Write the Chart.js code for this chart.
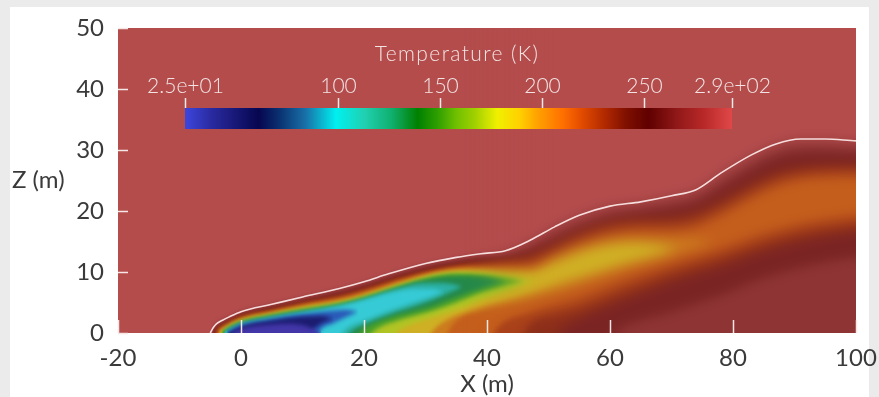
<!DOCTYPE html>
<html>
<head>
<meta charset="utf-8">
<script src="https://cdn.jsdelivr.net/npm/chart.js@4.4.1/dist/chart.umd.min.js"></script>
<style>
  html, body { margin: 0; padding: 0; width: 879px; height: 397px; overflow: hidden; background: #ebebeb; }
  #panel { position: absolute; left: 10px; top: 7px; width: 859px; height: 390px; background: #ffffff; }
  #wrap { position: absolute; left: 0; top: 0; width: 879px; height: 397px; }
</style>
</head>
<body>
<div id="panel"></div>
<div id="wrap"><canvas id="c" width="879" height="397"></canvas></div>
<script>
// Axis ticks
const xTicks = [-20, 0, 20, 40, 60, 80, 100];
const zTicks = [0, 10, 20, 30, 40, 50];

// Colour bar (Temperature, K)
const barTemps  = [25, 38, 61, 71, 84, 99, 113, 126, 139, 149, 158, 167, 178, 189, 198, 210, 218, 231, 241, 252, 266, 279, 293];
const barColors = ['#3c46dc','#2a2aa0','#060650','#0a3070','#1870a8','#00f0f0','#20d0b0','#10b070','#008000','#30a000',
                   '#70c000','#a0d000','#f0f000','#ffd000','#ffa000','#ff7000','#e85000','#b02800','#801000','#600000',
                   '#901818','#b82828','#e04848'];
const barTickValues = [25, 100, 150, 200, 250, 293];
const barTickLabels = ['2.5e+01', '100', '150', '200', '250', '2.9e+02'];

// Isotherm outlines, [x (m), z (m)]. Each temperature level encloses the
// region colder than that level, bounded by an upper and a lower curve.
// Plume edge (white contour)
const plumeEdge = [[-5,0],[-4.5,0.9],[-4,1.5],[-3,2.1],[-2,2.6],[0,3.5],[5,4.7],[10,5.9],[16,7.3],[20,8.4],[24,9.7],[30,11.4],[35,12.4],[39,13.0],[43,13.5],[47,15.2],[51,17.4],[55,19.3],[60,20.8],[65,21.5],[70,22.5],[74,23.5],[78,26.2],[83,29.2],[87,31.0],[91,31.8],[95,31.8],[100,31.5],[104,31.4]];

const t282Top = plumeEdge;
const t282Bot = [[-5,-3],[104,-3]];

const t272Top = [[-4.8,0],[-4.5,0.6],[-4,1.2],[-3,1.8],[-2,2.3],[0,3.25],[5,4.45],[10,5.6],[16,6.95],[20,8.0],[24,9.3],[30,11.0],[35,12.0],[39,12.6],[43,13.0],[47,14.4],[51,16.5],[55,18.3],[60,20.0],[65,20.7],[70,21.6],[74,22.6],[78,25.1],[83,28.1],[87,30.0],[91,30.8],[95,30.8],[100,30.5],[104,30.4]];
const t272Bot = [[-4.8,-3],[104,-3]];

const t262Top = [[-4.6,0],[-4,0.9],[-3,1.55],[-2,2.05],[0,3.0],[5,4.2],[10,5.3],[16,6.6],[20,7.65],[24,8.95],[30,10.6],[35,11.6],[39,12.2],[43,12.6],[47,13.7],[51,15.6],[55,17.4],[60,19.1],[65,19.9],[70,20.6],[74,21.5],[78,23.8],[83,26.8],[87,28.8],[91,29.6],[95,29.7],[100,29.5],[104,29.4]];
const t262Bot = [[-4.6,-3],[56,-3],[62,1.0],[70,3.5],[78,6.2],[85,9.0],[92,11.0],[100,12.5],[104,13.3]];

const t248Top = [[-4.4,0],[-4,0.6],[-3,1.3],[-2,1.85],[0,2.8],[5,3.95],[10,5.05],[16,6.3],[20,7.35],[24,8.65],[30,10.3],[35,11.3],[39,11.8],[43,12.2],[47,12.9],[51,14.6],[55,16.5],[60,18.2],[65,18.8],[70,19.1],[74,19.9],[78,21.8],[83,24.6],[87,26.4],[91,27.3],[95,27.6],[100,27.6],[104,27.6]];
const t248Bot = [[-4.4,-3],[48,-3],[52,0.5],[55,2.3],[62,5.2],[70,8.3],[78,10.8],[85,13.3],[92,15.2],[100,16.6],[104,17.2]];

const t235Top = [[-4.2,0],[-4,0.3],[-3,1.1],[-2,1.65],[0,2.6],[5,3.7],[10,4.8],[16,6.0],[20,7.05],[24,8.35],[30,10.0],[35,11.0],[39,11.3],[43,11.6],[47,12.0],[51,13.8],[55,15.7],[60,17.3],[65,17.9],[70,18.0],[74,18.7],[78,20.6],[83,23.4],[87,25.3],[91,26.3],[95,26.7],[100,26.8],[104,26.8]];
const t235Bot = [[-4.2,-3],[44,-3],[47,1.5],[51,3.0],[55,4.0],[62,6.8],[70,9.8],[78,12.3],[85,14.7],[92,16.6],[100,17.8],[104,18.3]];

const t220Top = [[-4.0,0],[-3,0.9],[-2,1.45],[0,2.4],[5,3.5],[10,4.6],[16,5.7],[20,6.75],[24,8.05],[30,9.75],[35,10.7],[39,10.9],[43,11.0],[47,11.2],[51,13.0],[55,14.8],[60,16.3],[65,16.9],[70,16.9],[74,17.6],[78,19.4],[83,22.2],[87,24.1],[91,25.2],[95,25.6],[100,25.7],[104,25.7]];
const t220Bot = [[-4.0,-3],[39,-3],[42,1.2],[47,3.3],[55,5.6],[62,8.4],[70,11.2],[78,13.7],[85,16.2],[92,18.0],[100,19.2],[104,19.6]];

const t205Top = [[-3.8,0],[-3,0.7],[-2,1.3],[0,2.25],[5,3.35],[10,4.4],[16,5.45],[20,6.5],[24,7.8],[30,9.55],[35,10.45],[39,10.6],[43,10.6],[47,10.6],[51,12.4],[55,14.0],[60,15.3],[65,15.7],[70,15.5],[74,15.4],[77,14.9]];
const t205Bot = [[-3.8,-3],[31,-3],[35,2.0],[39,3.6],[43,4.6],[47,5.6],[51,6.9],[55,8.2],[60,9.8],[65,11.4],[70,12.9],[74,14.0],[77,14.9]];

const t190Top = [[-3.6,0],[-3,0.5],[-2,1.15],[0,2.1],[5,3.2],[10,4.2],[16,5.2],[20,6.25],[24,7.55],[30,9.35],[35,10.2],[39,10.3],[43,10.1],[47,10.0],[51,11.6],[55,13.2],[60,14.5],[64,14.8],[68,14.4],[71,13.6]];
const t190Bot = [[-3.6,-3],[28,-3],[32,1.2],[39,4.3],[43,5.4],[47,6.5],[51,7.8],[55,9.0],[60,10.6],[64,11.8],[68,12.8],[71,13.6]];

const t175Top = [[-3.4,0],[-3,0.3],[-2,1.0],[0,1.95],[5,3.05],[10,4.0],[16,5.0],[20,6.0],[24,7.3],[30,9.15],[35,9.95],[39,9.9],[43,9.4],[48,8.6]];
const t175Bot = [[-3.4,-3],[22,-3],[26,0.6],[31,2.5],[35,3.8],[39,5.4],[43,6.9],[48,8.6]];

const t155Top = [[-3.2,0],[-2,0.85],[0,1.8],[5,2.9],[10,3.8],[16,4.8],[20,5.8],[24,7.05],[30,8.95],[35,9.7],[39,9.5],[43,9.0],[46,8.5]];
const t155Bot = [[-3.2,-3],[18,-3],[22,0.6],[26,2.2],[31,3.6],[35,5.0],[39,6.6],[43,7.8],[46,8.5]];

const t140Top = [[-3.0,0],[-2,0.7],[0,1.65],[5,2.75],[10,3.6],[16,4.6],[20,5.65],[24,7.0],[30,8.7],[35,9.3],[39,9.2],[43,8.4]];
const t140Bot = [[-3.0,-3],[16,-3],[20,0.8],[24,2.5],[31,4.4],[35,5.9],[39,7.3],[43,8.4]];

const t120Top = [[-2.8,0],[-2,0.55],[0,1.5],[5,2.6],[10,3.45],[16,4.5],[20,5.5],[24,6.8],[30,8.2],[33,8.2],[36,7.6]];
const t120Bot = [[-2.8,-3],[15,-3],[18,0.3],[20,1.4],[24,3.0],[30,5.0],[36,7.6]];

const t100Top = [[-2.6,0],[-2,0.4],[0,1.38],[5,2.45],[10,3.3],[16,4.4],[20,5.4],[24,6.5],[28,7.2],[31,7.2],[33,6.8]];
const t100Bot = [[-2.6,-3],[14,-3],[17,0.6],[20,2.0],[24,3.6],[28,5.0],[31,6.0],[33,6.8]];

const t80Top = [[-2.4,0],[0,1.25],[5,2.3],[10,3.1],[14,3.6],[17,3.8],[19,3.5]];
const t80Bot = [[-2.4,-3],[11,-3],[13,0.6],[15,1.6],[17,2.6],[19,3.5]];

const t60Top = [[-2.2,0],[0,1.1],[5,2.1],[10,2.7],[13,2.8],[15,2.4]];
const t60Bot = [[-2.2,-3],[9,-3],[12,0.8],[15,2.4]];

const t40Top = [[-1.5,0],[0,0.7],[4,1.3],[8,1.5],[11,1.0],[13,0]];
const t40Bot = [[-1.5,-3],[13,-3]];

// Isotherm levels, warmest first, with the shade used inside each one
const levels    = [282, 272, 262, 248, 235, 220, 205, 190, 175, 155, 140, 120, 100, 80, 60, 40];
const levelTops = [t282Top, t272Top, t262Top, t248Top, t235Top, t220Top, t205Top, t190Top, t175Top, t155Top, t140Top, t120Top, t100Top, t80Top, t60Top, t40Top];
const levelBots = [t282Bot, t272Bot, t262Bot, t248Bot, t235Bot, t220Bot, t205Bot, t190Bot, t175Bot, t155Bot, t140Bot, t120Bot, t100Bot, t80Bot, t60Bot, t40Bot];
const levelFill = ['#a24242','#8e3434','#7a2424','#8c2e1a','#a8401a','#c45e1c','#cc7c1e','#cfb024','#b0c424','#48a02c',
                   '#24884a','#2cb0a4','#36cad6','#2a5ab8','#1c1c70','#4236a8'];

const AMBIENT = '#b44c4c';
const FONT = 'Lato';
const TEXT_DARK = '#3a3a3a';
const TEXT_LIGHT = '#f2e4e4';

const pts = arr => arr.map(p => ({ x: p[0], y: p[1] }));

const datasets = [];
levels.forEach((T, k) => {
  datasets.push({
    label: T + ' K lower', data: pts(levelBots[k]), order: 100 - k,
    borderColor: 'rgba(0,0,0,0)', borderWidth: 0, pointRadius: 0, fill: false,
    cubicInterpolationMode: 'monotone'
  });
  datasets.push({
    label: T + ' K', data: pts(levelTops[k]), order: 100 - k,
    borderColor: 'rgba(0,0,0,0)', borderWidth: 0, pointRadius: 0, fill: '-1',
    backgroundColor: levelFill[k], cubicInterpolationMode: 'monotone'
  });
});
datasets.push({
  label: 'plume edge', data: pts(plumeEdge), order: 0, isoline: true,
  borderColor: '#f6dede', borderWidth: 1.6, pointRadius: 0, fill: false,
  cubicInterpolationMode: 'monotone'
});

const ambientBg = {
  id: 'ambientBg',
  beforeDraw(chart) {
    const { ctx, chartArea: a } = chart;
    ctx.save();
    ctx.fillStyle = AMBIENT;
    ctx.fillRect(a.left, a.top, a.right - a.left, a.bottom - a.top);
    ctx.restore();
  }
};

// Softens the wide, slowly varying part of the plume (downstream side),
// fading the effect in across a band of x so no seam shows.
function softenDownstream(chart, xFrom, xTo, radius) {
  const { ctx, chartArea: a, scales } = chart;
  const src = ctx.canvas;
  const pad = 24;
  const L = Math.round(a.left), T = Math.round(a.top);
  const w = Math.round(a.right) - L, h = Math.round(a.bottom) - T;
  const off = document.createElement('canvas');
  off.width = w + 2 * pad; off.height = h + 2 * pad;
  const o = off.getContext('2d');
  o.drawImage(src, L, T, w, h, pad, pad, w, h);
  o.drawImage(src, L, T + h - 1, w, 1, pad, pad + h, w, pad);
  o.drawImage(src, L, T, w, 1, pad, 0, w, pad);
  o.drawImage(src, L + w - 1, T, 1, h, pad + w, pad, pad, h);
  o.drawImage(src, L, T, 1, h, 0, pad, pad, h);
  o.drawImage(src, L + w - 1, T + h - 1, 1, 1, pad + w, pad + h, pad, pad);
  o.drawImage(src, L + w - 1, T, 1, 1, pad + w, 0, pad, pad);
  const blurred = document.createElement('canvas');
  blurred.width = off.width; blurred.height = off.height;
  const b = blurred.getContext('2d');
  b.filter = 'blur(' + radius + 'px)';
  b.drawImage(off, 0, 0);
  b.filter = 'none';
  b.globalCompositeOperation = 'destination-in';
  const x0 = scales.x.getPixelForValue(xFrom) - L + pad;
  const x1 = scales.x.getPixelForValue(xTo) - L + pad;
  const g = b.createLinearGradient(x0, 0, x1, 0);
  g.addColorStop(0, 'rgba(0,0,0,0)');
  g.addColorStop(1, 'rgba(0,0,0,1)');
  b.fillStyle = g;
  b.fillRect(0, 0, blurred.width, blurred.height);
  ctx.save();
  ctx.filter = 'none';
  ctx.beginPath();
  ctx.rect(L, T, w, h);
  ctx.clip();
  ctx.drawImage(blurred, L - pad, T - pad);
  ctx.restore();
}

// smooth the shaded field like a continuous contour plot
const fieldSmooth = {
  id: 'fieldSmooth',
  beforeDatasetsDraw(chart) { chart.ctx.filter = 'blur(2.2px)'; },
  beforeDatasetDraw(chart, args) {
    if (chart.data.datasets[args.index].isoline) {
      chart.ctx.filter = 'none';
      softenDownstream(chart, 36, 52, 6);
      chart.ctx.filter = 'blur(0.3px)';
    }
  },
  afterDatasetsDraw(chart) { chart.ctx.filter = 'none'; }
};

const overlay = {
  id: 'overlay',
  afterDraw(chart) {
    const { ctx, chartArea: a, scales } = chart;
    ctx.save();
    ctx.filter = 'none';
    // inward tick marks
    ctx.strokeStyle = '#f6e6e6';
    ctx.lineWidth = 1.5;
    xTicks.forEach(v => {
      const px = Math.round(scales.x.getPixelForValue(v)) + 0.5;
      ctx.beginPath(); ctx.moveTo(px, a.bottom); ctx.lineTo(px, a.bottom - 13); ctx.stroke();
    });
    zTicks.forEach(v => {
      const py = Math.round(scales.y.getPixelForValue(v)) + 0.5;
      ctx.beginPath(); ctx.moveTo(a.left, py); ctx.lineTo(a.left + 10, py); ctx.stroke();
    });

    // axis titles
    ctx.fillStyle = TEXT_DARK;
    ctx.font = '400 24px ' + FONT;
    ctx.textBaseline = 'middle';
    ctx.textAlign = 'left';
    ctx.fillText('Z (m)', 12, 180);
    ctx.textAlign = 'center';
    ctx.fillText('X (m)', (a.left + a.right) / 2, 384);

    // colour bar
    const bx = a.left + 67, bw = 547, by = a.top + 80, bh = 21;
    const tMin = barTemps[0], tMax = barTemps[barTemps.length - 1];
    const xOf = t => bx + (t - tMin) / (tMax - tMin) * bw;
    const g = ctx.createLinearGradient(bx, 0, bx + bw, 0);
    barTemps.forEach((t, i) => g.addColorStop((t - tMin) / (tMax - tMin), barColors[i]));
    ctx.fillStyle = g;
    ctx.fillRect(bx, by, bw, bh);

    ctx.strokeStyle = '#f4eaea';
    ctx.lineWidth = 1.5;
    ctx.fillStyle = TEXT_LIGHT;
    ctx.font = '300 21px ' + FONT;
    ctx.textAlign = 'center';
    ctx.textBaseline = 'alphabetic';
    barTickValues.forEach((t, i) => {
      const px = Math.round(xOf(t)) + 0.5;
      ctx.beginPath(); ctx.moveTo(px, by - 10); ctx.lineTo(px, by); ctx.stroke();
      ctx.fillText(barTickLabels[i], px, by - 15);
    });
    ctx.letterSpacing = '1.4px';
    ctx.fillText('Temperature (K)', bx + 272, a.top + 33);
    ctx.restore();
  }
};

new Chart(document.getElementById('c'), {
  type: 'line',
  data: { datasets },
  options: {
    responsive: false,
    animation: false,
    events: [],
    layout: { padding: { top: 28, right: 23, left: 0, bottom: 0 } },
    plugins: { legend: { display: false }, tooltip: { enabled: false } },
    scales: {
      x: {
        type: 'linear', min: -20, max: 100,
        afterBuildTicks(s) { s.ticks = xTicks.map(v => ({ value: v })); },
        afterFit(s) { s.height = 64; s.paddingLeft = 0; s.paddingRight = 0; },
        grid: { display: false, drawTicks: false },
        border: { display: false },
        ticks: { color: TEXT_DARK, font: { family: FONT, size: 24, weight: 400 }, padding: 11, maxRotation: 0, autoSkip: false }
      },
      y: {
        type: 'linear', min: 0, max: 50,
        afterBuildTicks(s) { s.ticks = zTicks.map(v => ({ value: v })); },
        afterFit(s) { s.width = 118; s.paddingTop = 0; s.paddingBottom = 0; },
        grid: { display: false, drawTicks: false },
        border: { display: false },
        ticks: { color: TEXT_DARK, font: { family: FONT, size: 24, weight: 400 }, padding: 14 }
      }
    }
  },
  plugins: [ambientBg, fieldSmooth, overlay]
});
</script>
</body>
</html>
